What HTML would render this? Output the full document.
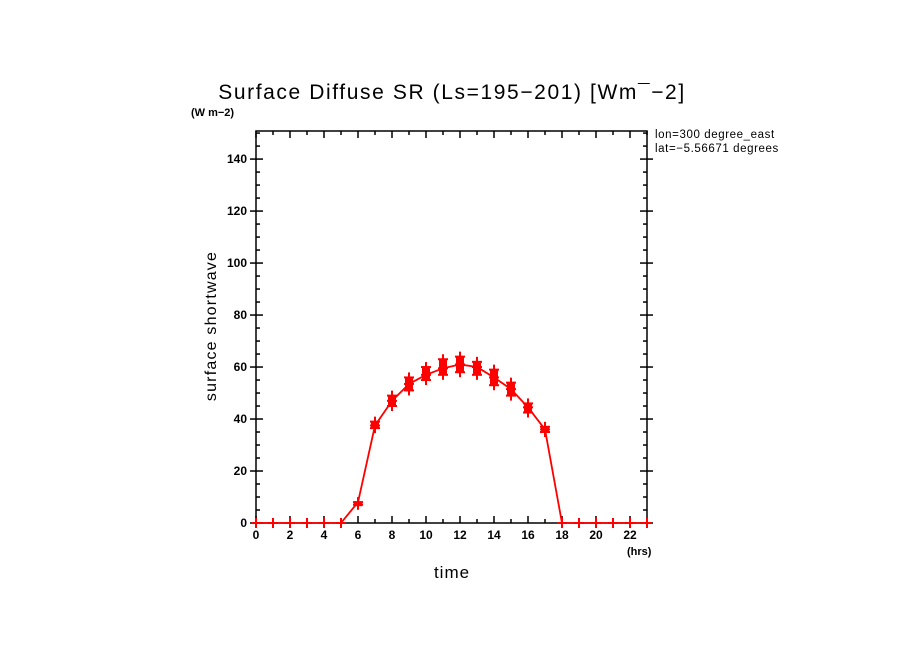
<!DOCTYPE html>
<html><head><meta charset="utf-8"><style>
body{margin:0;background:#fff;}
svg text{font-family:"Liberation Sans","DejaVu Sans",sans-serif;}
</style></head><body>
<svg id="chart" width="904" height="654" viewBox="0 0 904 654" xmlns="http://www.w3.org/2000/svg">
<rect width="904" height="654" fill="#fff"/>
<text x="452" y="99" text-anchor="middle" font-size="21" letter-spacing="1.6">Surface Diffuse SR (Ls=195−201) [Wm¯−2]</text>
<text x="191" y="116" font-size="11" font-weight="bold">(W m−2)</text>
<svg x="0" y="0" width="780" height="654" overflow="hidden">
<text x="655" y="138" font-size="11.5" letter-spacing="0.6">lon=300 degree_east</text>
<text x="655" y="152" font-size="11.5" letter-spacing="0.6">lat=−5.56671 degrees</text>
</svg>
<text transform="translate(216,326) rotate(-90)" text-anchor="middle" font-size="16" letter-spacing="1.2">surface shortwave</text>
<text x="452" y="578" text-anchor="middle" font-size="17" letter-spacing="1">time</text>
<text x="627" y="555" font-size="11" font-weight="bold">(hrs)</text>
<g id="axes"></g>
<g id="series"></g>
</svg>
<script>
const hours=[0,1,2,3,4,5,6,7,8,9,10,11,12,13,14,15,16,17,18,19,20,21,22,23];
const meanValues=[0,0,0,0,0,0,8,37.5,47,53.5,57,59.5,61,60,56,51.5,44.5,36,0,0,0,0,0,0];
const highValues=[0,0,0,0,0,0,8,39,49,56,60,63,64,62,59,54,46,37,0,0,0,0,0,0];
const lowValues=[0,0,0,0,0,0,7,36.5,45,51,55,57,58,57,53,49,42.5,35,0,0,0,0,0,0];
const xTicks=[0,2,4,6,8,10,12,14,16,18,20,22];
const yTicks=[0,20,40,60,80,100,120,140];
const L=256,R=647,T=131,B=523,XMAX=23,YMAX=150.8;
const xs=v=>L+(R-L)*v/XMAX, ys=v=>B-(B-T)*v/YMAX;
const NS="http://www.w3.org/2000/svg";
function mk(tag,attrs,parent){const e=document.createElementNS(NS,tag);for(const k in attrs)e.setAttribute(k,attrs[k]);parent.appendChild(e);return e;}
const ax=document.getElementById('axes');
const frame=mk('rect',{x:L,y:T,width:R-L,height:B-T,fill:'none',stroke:'#000','stroke-width':1.5},ax);


for(let h=0;h<=XMAX;h++){const x=xs(h);const len=h%2===0?7:4;
 const t1=mk('line',{x1:x,x2:x,y1:B,y2:B-len,stroke:'#000','stroke-width':1.5},ax);
 
 const t2=mk('line',{x1:x,x2:x,y1:T,y2:T+len,stroke:'#000','stroke-width':1.5},ax);
 }
xTicks.forEach(v=>{const t=mk('text',{x:xs(v),y:B+16,'text-anchor':'middle','font-size':12,'font-weight':'bold'},ax);t.textContent=v;
 });
for(let v=0;v<=150;v+=5){const y=ys(v);const maj=v%20===0;
 const a=mk('line',{x1:maj?L-6:L,x2:L+(maj?7:4),y1:y,y2:y,stroke:'#000','stroke-width':1.5},ax);
 
 const b=mk('line',{x1:R-(maj?7:4),x2:maj?R+6:R,y1:y,y2:y,stroke:'#000','stroke-width':1.5},ax);
 }
yTicks.forEach(v=>{const t=mk('text',{x:L-9,y:ys(v)+4,'text-anchor':'end','font-size':12,'font-weight':'bold'},ax);t.textContent=v;
 });
const sg=document.getElementById('series');
const line=mk('polyline',{points:hours.map((h,i)=>xs(h)+','+ys(meanValues[i])).join(' '),fill:'none',stroke:'#f00','stroke-width':1.8},sg);


function plus(x,y){const g=mk('g',{stroke:'#f00','stroke-width':2},sg);
 
 mk('line',{x1:x-5,x2:x+5,y1:y,y2:y},g);mk('line',{x1:x,x2:x,y1:y-5,y2:y+5},g);}
hours.forEach((h,i)=>{const x=xs(h);
 if(highValues[i]>0){const r=mk('rect',{x:x-4,y:ys(highValues[i]),width:8,height:Math.max(4,ys(lowValues[i])-ys(highValues[i])),fill:'#f00'},sg);
  }
 plus(x,ys(highValues[i]));plus(x,ys(lowValues[i]));plus(x,ys(meanValues[i]));});
</script>
</body></html>
